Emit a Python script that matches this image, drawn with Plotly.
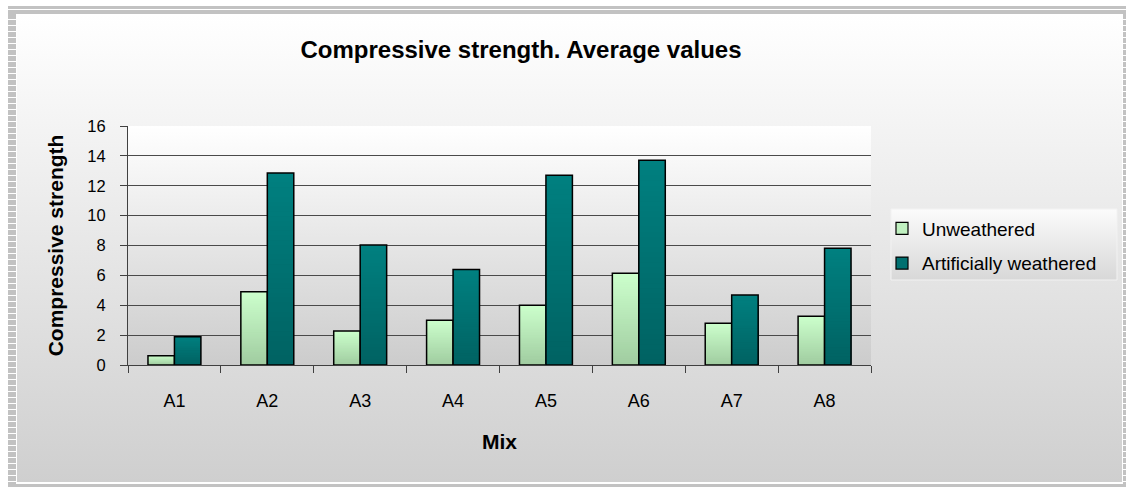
import base64
import plotly.graph_objects as go

# ---- data ----
mixes = ["A1", "A2", "A3", "A4", "A5", "A6", "A7", "A8"]
unweathered = [0.62, 4.9, 2.27, 3.0, 4.0, 6.15, 2.79, 3.27]
art_weathered = [1.89, 12.86, 8.04, 6.4, 12.7, 13.7, 4.68, 7.82]
series_names = ["Unweathered", "Artificially weathered"]
y_ticks = [0, 2, 4, 6, 8, 10, 12, 14, 16]

W, H = 1126, 487
L, R, T, B = 128, 871, 126, 365  # plot area in pixels

def pxx(x):
    return (x - L) / (R - L)

def pyy(y):
    return (B - y) / (B - T)

def grad_uri(top, bottom):
    svg = (
        "<svg xmlns='http://www.w3.org/2000/svg' viewBox='0 0 1 1' "
        "preserveAspectRatio='none' width='100' height='100'>"
        "<defs><linearGradient id='g' x1='0' y1='0' x2='0' y2='1'>"
        f"<stop offset='0' stop-color='{top}'/>"
        f"<stop offset='1' stop-color='{bottom}'/>"
        "</linearGradient></defs>"
        "<rect x='0' y='0' width='1' height='1' fill='url(#g)'/></svg>"
    )
    return "data:image/svg+xml;base64," + base64.b64encode(svg.encode()).decode()

def hex2rgb(h):
    h = h.lstrip("#")
    return tuple(int(h[i:i + 2], 16) for i in (0, 2, 4))

def lerp(c0, c1, t):
    a, b = hex2rgb(c0), hex2rgb(c1)
    return "rgb(%d,%d,%d)" % tuple(round(a[i] + (b[i] - a[i]) * t) for i in range(3))

FONT = "Liberation Sans, Arial, sans-serif"
N = 40  # gradient steps per bar

series = [
    (series_names[0], unweathered, "#a0cca0", "#ccffcc", "#c0f0c0", "u"),
    (series_names[1], art_weathered, "#006262", "#008080", "#007070", "a"),
]

fig = go.Figure()

for name, vals, cbot, ctop, cmid, grp in series:
    # nested bars from full height down to the shortest: each drawn over the previous,
    # so the visible bands form a vertical gradient without seams
    for j in range(N):
        frac = (N - j) / N
        fig.add_trace(go.Bar(
            x=mixes,
            y=[v * frac for v in vals],
            offsetgroup=grp,
            marker=dict(color=lerp(cbot, ctop, frac - 0.5 / N), line=dict(width=0)),
            showlegend=False, hoverinfo="skip",
        ))
    # outline
    fig.add_trace(go.Bar(
        x=mixes, y=vals, offsetgroup=grp,
        marker=dict(color="rgba(0,0,0,0)", line=dict(color="black", width=1.5)),
        showlegend=False, name=name,
    ))

# legend entries
for name, vals, cbot, ctop, cmid, grp in series:
    fig.add_trace(go.Bar(
        x=mixes, y=[None] * len(mixes), name=name, offsetgroup=grp,
        legendgroup=name,
        marker=dict(color=cmid, line=dict(color="black", width=1.2)),
        showlegend=True,
    ))

images = [
    dict(source=grad_uri("#ffffff", "#cfcfcf"), xref="paper", yref="paper",
         x=pxx(17), y=pyy(14), sizex=pxx(1122) - pxx(17), sizey=pyy(14) - pyy(482),
         xanchor="left", yanchor="top", sizing="stretch", layer="below"),
    dict(source=grad_uri("#ffffff", "#cccccc"), xref="paper", yref="paper",
         x=0, y=1, sizex=1, sizey=1,
         xanchor="left", yanchor="top", sizing="stretch", layer="below"),
    dict(source=grad_uri("#fbfbfb", "#d8d8d8"), xref="paper", yref="paper",
         x=pxx(891), y=pyy(209), sizex=pxx(1117) - pxx(891), sizey=pyy(209) - pyy(280),
         xanchor="left", yanchor="top", sizing="stretch", layer="below"),
]

border = "#c2c2c2"
shapes = [
    dict(type="line", xref="paper", yref="paper", x0=pxx(8), x1=pxx(1126), y0=pyy(7.5), y1=pyy(7.5),
         line=dict(color=border, width=3)),
    dict(type="line", xref="paper", yref="paper", x0=pxx(8), x1=pxx(1126), y0=pyy(12), y1=pyy(12),
         line=dict(color=border, width=4)),
    dict(type="line", xref="paper", yref="paper", x0=pxx(8), x1=pxx(1126), y0=pyy(485.5), y1=pyy(485.5),
         line=dict(color=border, width=3)),
    dict(type="line", xref="paper", yref="paper", x0=pxx(12), x1=pxx(12), y0=pyy(14), y1=pyy(484),
         line=dict(color=border, width=8, dash="5px,1px")),
    dict(type="line", xref="paper", yref="paper", x0=pxx(1124.5), x1=pxx(1124.5), y0=pyy(14), y1=pyy(484),
         line=dict(color=border, width=3, dash="5px,1px")),
    dict(type="rect", xref="paper", yref="paper", x0=pxx(891), x1=pxx(1117), y0=pyy(280), y1=pyy(209),
         line=dict(color="#f2f2f2", width=1), fillcolor="rgba(0,0,0,0)", layer="below"),
]

fig.update_layout(
    width=W, height=H,
    margin=dict(l=L, r=W - R, t=T, b=H - B, pad=0),
    paper_bgcolor="white",
    plot_bgcolor="rgba(0,0,0,0)",
    barmode="group", bargap=0.43, bargroupgap=0,
    font=dict(family=FONT, size=16, color="black"),
    title=dict(text="<b>Compressive strength. Average values</b>",
               font=dict(family=FONT, size=24, color="black"),
               xref="container", yref="container", x=521 / W, y=1 - 50 / H,
               xanchor="center", yanchor="middle"),
    xaxis=dict(
        type="category", showline=True, linecolor="#404040", linewidth=1,
        ticks="outside", ticklen=7, tickcolor="#404040", tickson="boundaries",
        ticklabelstandoff=19, showgrid=False,
        title=dict(text="<b>Mix</b>", font=dict(family=FONT, size=21), standoff=24),
        tickfont=dict(size=18),
    ),
    yaxis=dict(
        range=[0, 16], tickvals=y_ticks, showline=True, linecolor="#404040", linewidth=1,
        ticks="outside", ticklen=7, tickcolor="#404040",
        showgrid=True, gridcolor="#4a4a4a", gridwidth=1, zeroline=False,
        ticklabelstandoff=11,
        title=dict(text="<b>Compressive strength</b>", font=dict(family=FONT, size=21), standoff=17),
        tickfont=dict(size=16.5),
    ),
    legend=dict(x=pxx(882), y=pyy(209.5), xanchor="left", yanchor="top",
                bgcolor="rgba(0,0,0,0)", borderwidth=0, traceorder="grouped",
                font=dict(family=FONT, size=19), itemwidth=30, tracegroupgap=7),
    images=images,
    shapes=shapes,
    showlegend=True,
)

fig.write_html("out.html")
